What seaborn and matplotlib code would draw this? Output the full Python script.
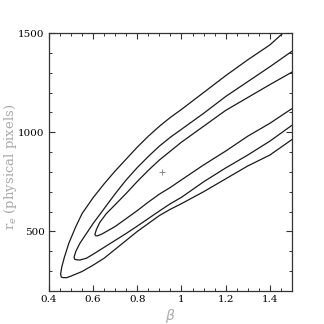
import matplotlib
matplotlib.use("Agg")
import matplotlib.pyplot as plt
import seaborn as sns
import pandas as pd
from matplotlib.ticker import MultipleLocator

# Contour levels: beta (x) vs r_e (y)
inner_upper_x = [1.50, 1.40, 1.30, 1.20, 1.10, 1.00, 0.95, 0.90, 0.85, 0.80, 0.75, 0.70, 0.66, 0.63, 0.615, 0.608]
inner_upper_y = [1303, 1240, 1175, 1110, 1030, 950, 905, 860, 808, 752, 692, 635, 590, 545, 510, 485]
inner_lower_x = [0.612, 0.62, 0.64, 0.70, 0.75, 0.80, 0.85, 0.90, 0.95, 1.00, 1.10, 1.20, 1.30, 1.40, 1.50]
inner_lower_y = [478, 478, 487, 525, 565, 605, 648, 688, 722, 760, 835, 905, 980, 1045, 1119]

middle_upper_x = [1.50, 1.40, 1.30, 1.20, 1.10, 1.00, 0.95, 0.90, 0.85, 0.80, 0.75, 0.70, 0.65, 0.60, 0.57, 0.54, 0.522, 0.514]
middle_upper_y = [1408, 1330, 1255, 1180, 1095, 1015, 975, 930, 878, 822, 760, 690, 615, 540, 490, 440, 400, 372]
middle_lower_x = [0.516, 0.525, 0.54, 0.57, 0.60, 0.65, 0.70, 0.75, 0.80, 0.85, 0.90, 0.95, 1.00, 1.10, 1.20, 1.30, 1.40, 1.50]
middle_lower_y = [360, 357, 356, 365, 385, 420, 455, 490, 527, 565, 603, 640, 672, 750, 820, 885, 955, 1035]

outer_upper_x = [1.50, 1.46, 1.40, 1.30, 1.20, 1.10, 1.00, 0.95, 0.90, 0.85, 0.80, 0.75, 0.70, 0.65, 0.60, 0.55, 0.52, 0.49, 0.47, 0.458, 0.453]
outer_upper_y = [1555, 1500, 1440, 1365, 1285, 1200, 1115, 1075, 1030, 980, 925, 865, 805, 740, 670, 590, 520, 440, 370, 320, 285]
outer_lower_x = [0.456, 0.465, 0.48, 0.50, 0.55, 0.60, 0.65, 0.70, 0.75, 0.80, 0.85, 0.90, 0.95, 1.00, 1.10, 1.20, 1.30, 1.40, 1.50]
outer_lower_y = [270, 267, 267, 275, 298, 330, 365, 410, 455, 500, 540, 580, 612, 640, 700, 765, 830, 885, 963]

best_beta = [0.91]
best_re = [798]

x_ticks = [0.4, 0.6, 0.8, 1.0, 1.2, 1.4]
x_tick_labels = ["0.4", "0.6", "0.8", "1", "1.2", "1.4"]
y_ticks = [500, 1000, 1500]
y_tick_labels = ["500", "1000", "1500"]

sns.set_style("ticks")
plt.rcParams['font.family'] = ['DejaVu Serif']

fig = plt.figure(figsize=(3.24, 3.24), dpi=100)
ax = fig.add_axes([0.151, 0.102, 0.750, 0.796])

rows = []
for name, ux, uy, lx, ly in [
    ("inner", inner_upper_x, inner_upper_y, inner_lower_x, inner_lower_y),
    ("middle", middle_upper_x, middle_upper_y, middle_lower_x, middle_lower_y),
    ("outer", outer_upper_x, outer_upper_y, outer_lower_x, outer_lower_y),
]:
    xs = list(ux) + list(lx)
    ys = list(uy) + list(ly)
    for i, (a, b) in enumerate(zip(xs, ys)):
        rows.append({"level": name, "order": i, "beta": a, "re": b})
df = pd.DataFrame(rows)

for name in ["inner", "middle", "outer"]:
    sub = df[df.level == name]
    sns.lineplot(data=sub, x="beta", y="re", sort=False, estimator=None,
                 color="#1a1a1a", linewidth=0.9, ax=ax)

sns.scatterplot(x=best_beta, y=best_re, marker="+", s=18, color="#888888",
                linewidth=0.7, ax=ax)

ax.set_xlim(0.4, 1.5)
ax.set_ylim(200, 1500)
ax.set_xticks(x_ticks)
ax.set_xticklabels(x_tick_labels)
ax.set_yticks(y_ticks)
ax.set_yticklabels(y_tick_labels)
ax.xaxis.set_minor_locator(MultipleLocator(0.05))
ax.yaxis.set_minor_locator(MultipleLocator(100))
ax.tick_params(which="both", direction="in", top=True, right=True,
               color="#333333", labelsize=7.5, labelcolor="black", pad=3)
ax.tick_params(which="major", length=4, width=0.8)
ax.tick_params(which="minor", length=2.2, width=0.7)
for s in ax.spines.values():
    s.set_color("#333333")
    s.set_linewidth(0.9)

ax.set_xlabel(r"$\beta$", color="#aaaaaa", fontsize=10, labelpad=2)
ax.set_ylabel(r"r$_e$ (physical pixels)", color="#aaaaaa", fontsize=9.5)
ax.yaxis.set_label_coords(-0.125, 0.48)

fig.savefig("out.png", dpi=100)
